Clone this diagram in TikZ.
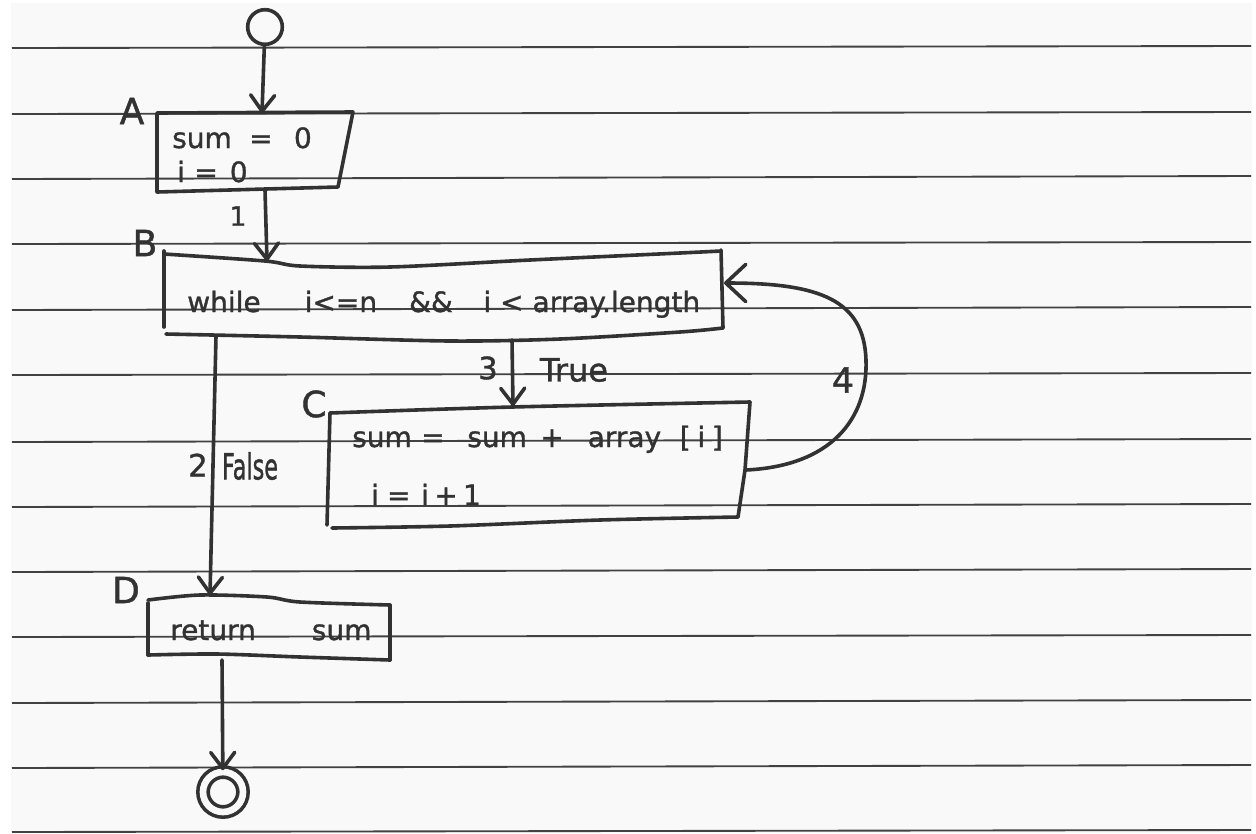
\documentclass[tikz,border=0pt]{standalone}
\usepackage{fontspec}
\usepackage{graphicx}
\usetikzlibrary{arrows.meta}
\newfontfamily\hand{DejaVu Sans}[FakeBold=1.2]
\definecolor{ink}{RGB}{50,50,50}
\definecolor{rule}{RGB}{66,66,66}
\definecolor{paper}{RGB}{249,249,249}

\begin{document}
\begin{tikzpicture}[x=0.75pt,y=-0.75pt,
  stroke/.style={draw=ink,line width=2.7pt,line cap=round,line join=round},
  flow/.style={stroke,-{Straight Barb[round,length=12pt,width=18pt]}},
  bigflow/.style={stroke,-{Straight Barb[round,length=15pt,width=28pt]}},
  txt/.style={font=\hand\fontsize{21pt}{25pt}\selectfont,text=ink,inner sep=0pt,anchor=base west},
  tag/.style={font=\hand\fontsize{27pt}{30pt}\selectfont,text=ink,inner sep=0pt},
  num/.style={font=\hand\fontsize{23pt}{26pt}\selectfont,text=ink,inner sep=0pt},
  ruling/.style={draw=rule,line width=1.4pt}]

\useasboundingbox (0,0) rectangle (1256,833);
\fill[white] (0,0) rectangle (1256,833);
\fill[paper] (11,3) rectangle (1252,833);

% ruled notebook lines
\foreach \l/\r in {48/46,114/112,179/176,244/242,310/307,375/373,442/439,
                   507/504,572/569,637/635,703/700,768/765,832/830}
  \draw[ruling] (12,\l) -- (1251,\r);

% start and end markers
\node[circle,draw=ink,line width=2.7pt,minimum size=26pt,inner sep=0pt] (start) at (265,27) {};
\node[circle,draw=ink,line width=2.7pt,double=paper,double distance=5pt,
      minimum size=30pt,inner sep=0pt] (end) at (223,792) {};

% ---- A: initialisation (trapezium) ----
\coordinate (A-nw) at (157,113);
\coordinate (A-ne) at (353,112);
\coordinate (A-se) at (338,187);
\coordinate (A-sw) at (157,192);
\draw[stroke] (A-nw) -- (A-ne) -- (A-se) -- (A-sw) -- cycle;
\node[txt] (A-l1) at (172,148) {sum\hspace{13pt}=\hspace{16pt}0};
\node[txt] (A-l2) at (177,182) {i\hspace{7pt}=\hspace{9pt}0};
\node[tag] (A) at (132,111) {A};
\coordinate (A-in) at (262,113);
\coordinate (A-out) at (265,190);

% ---- B: loop condition ----
\draw[stroke] (164,251) -- (164,327);
\draw[stroke] plot[smooth] coordinates {(164,254) (265,261) (300,266) (390,267) (530,260) (680,253) (721,251)};
\draw[stroke] (721,250) -- (723,328);
\draw[stroke] plot[smooth] coordinates {(723,328) (680,332) (560,339) (450,341) (300,337) (166,334)};
\node[txt] (B-l1) at (187,312) {while\hspace{33pt}i<=n\hspace{24pt}\&\&\hspace{23pt}i < array.length};
\node[tag] (B) at (145,243) {B};
\coordinate (B-in) at (267,261);
\coordinate (B-false) at (216,336);
\coordinate (B-true) at (512,340);
\coordinate (B-back) at (724,283);

% ---- C: loop body ----
\draw[stroke] (330,413) -- (327,525);
\draw[stroke] plot[smooth] coordinates {(330,413) (512,407) (750,402)};
\draw[stroke] (750,402) -- (745,470) -- (738,517);
\draw[stroke] plot[smooth] coordinates {(738,517) (600,520) (450,526) (332,528)};
\node[txt] (C-l1) at (352,447) {sum\hspace{7pt}=\hspace{17pt}sum\hspace{10pt}+\hspace{18pt}array\hspace{14pt}[\hspace{5pt}i\hspace{5pt}]};
\node[txt] (C-l2) at (371,505) {i\hspace{6pt}=\hspace{8pt}i\hspace{4pt}+\hspace{4pt}1};
\node[tag] (C) at (314,404) {C};
\coordinate (C-in) at (513,406);
\coordinate (C-out) at (746,470);

% ---- D: return ----
\draw[stroke] (148,603) -- (148,655);
\draw[stroke] plot[smooth] coordinates {(148,600) (200,595) (267,597) (300,602) (390,605)};
\draw[stroke] (390,605) -- (390,660);
\draw[stroke] plot[smooth] coordinates {(390,660) (300,657) (217,654) (148,655)};
\node[txt] (D-l1) at (170,640) {return\hspace{42pt}sum};
\node[tag] (D) at (126,590) {D};
\coordinate (D-in) at (210,595);
\coordinate (D-out) at (222,660);

% ---- flow connectors ----
\draw[flow] (start) -- (A-in);
\draw[flow] (A-out) -- (B-in);
\draw[flow] (B-false) -- (D-in);
\draw[flow] (B-true) -- (C-in);
\draw[bigflow] (C-out) .. controls (830,466) and (868,420) .. (866,360)
                       .. controls (864,300) and (820,283) .. (B-back);
\draw[flow] (D-out) -- (end);

% ---- edge labels ----
\node[num,font=\hand\fontsize{20pt}{22pt}\selectfont] (e1) at (238,216) {1};
\node[num] (e2) at (198,465) {2};
\node[tag] (e2l) at (250,466) {\scalebox{0.62}[1]{False}};
\node[num] (e3) at (488,368) {3};
\node[num,font=\hand\fontsize{24pt}{27pt}\selectfont] (e3l) at (574,370) {True};
\node[num,font=\hand\fontsize{26pt}{28pt}\selectfont] (e4) at (843,380) {4};

\end{tikzpicture}
\end{document}
